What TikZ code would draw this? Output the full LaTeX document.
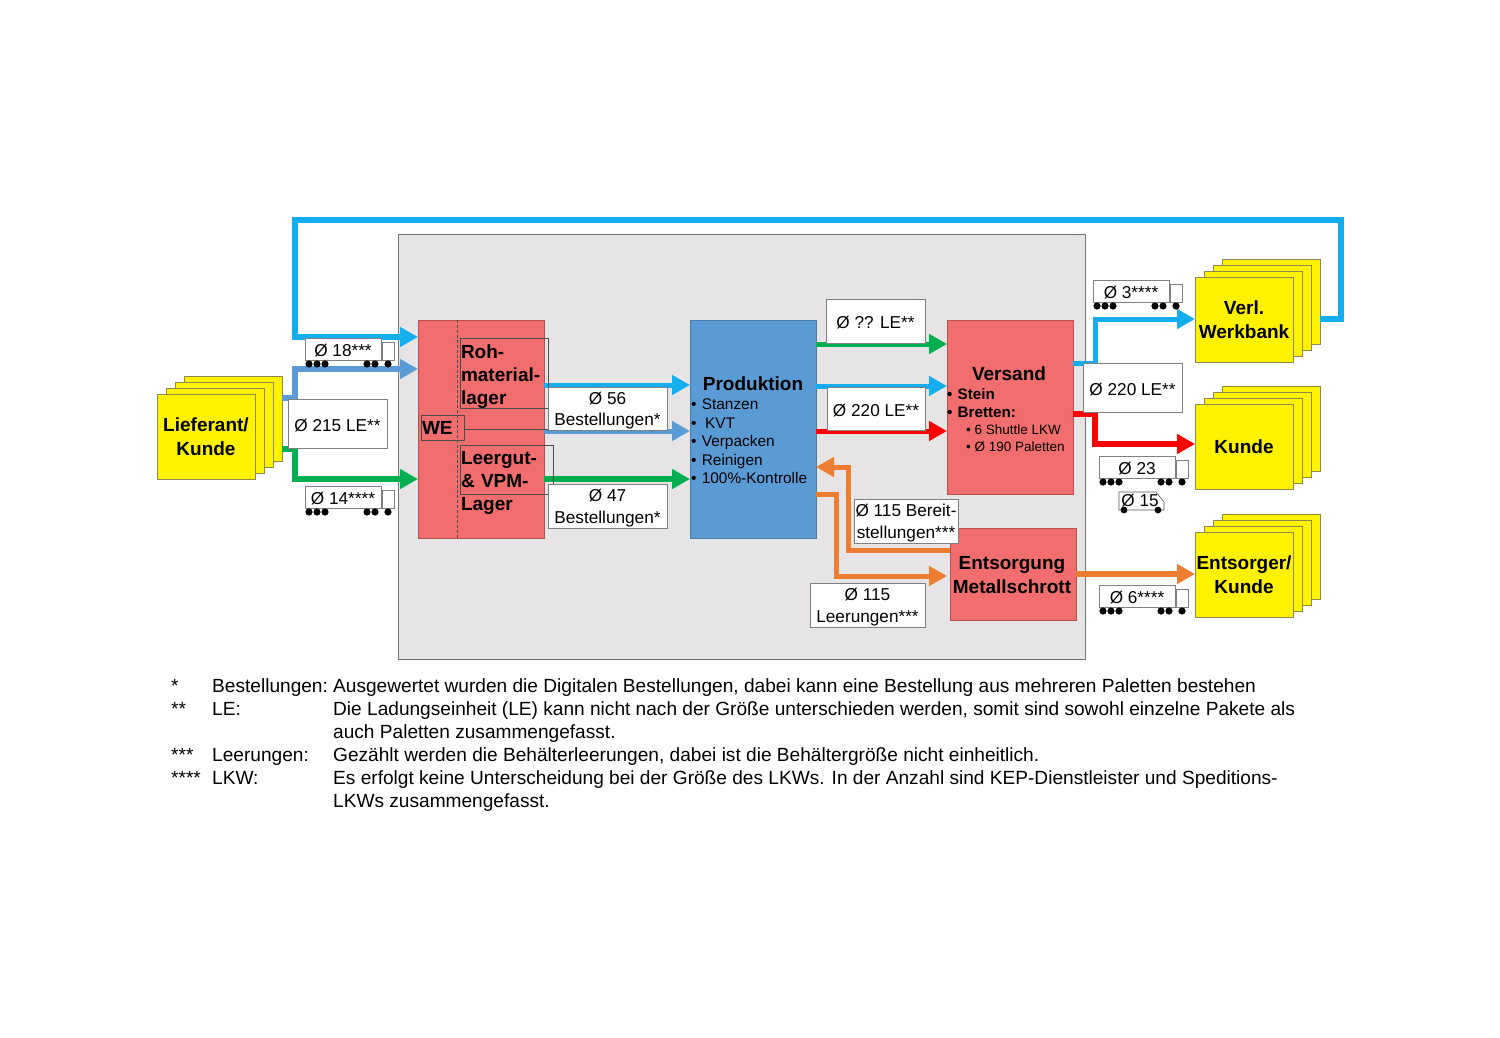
\documentclass[tikz,border=0pt]{standalone}
\usepackage{fontspec}
\setmainfont{Liberation Sans}
\usetikzlibrary{arrows.meta}
\definecolor{flowcyan}{HTML}{14AEEE}
\definecolor{flowblue}{HTML}{5B9BD5}
\definecolor{flowgreen}{HTML}{00B050}
\definecolor{floworange}{HTML}{ED7D31}
\definecolor{halle}{HTML}{E6E4E4}
\definecolor{lager}{HTML}{F26D6D}

\tikzset{
  area/.style = {draw=black!55, fill=halle, line width=.8pt, inner sep=0, outer sep=0},
  redbox/.style = {draw=lager!75!black, fill=lager, line width=.6pt, inner sep=0, outer sep=0},
  bluebox/.style = {draw=flowblue!80!black, fill=flowblue, line width=.6pt, inner sep=0, outer sep=0},
  yellowbox/.style = {draw=yellow!50!black, fill=yellow, line width=.8pt, inner sep=0, outer sep=0,
                      minimum width=98, minimum height=85.5, align=center,
                      font=\fontsize{19}{23.3}\selectfont\bfseries},
  valuebox/.style = {draw=black!50, fill=white, line width=.6pt, inner sep=0, outer sep=0},
  valuetext/.style = {inner sep=0, align=center, font=\fontsize{17.2}{21.5}\selectfont},
  title/.style = {inner sep=0, align=center, font=\fontsize{19}{23.3}\selectfont\bfseries},
  lagertext/.style = {draw=black!70, line width=.4pt, inner sep=0, outer sep=0, align=left,
                      font=\fontsize{19}{23.3}\selectfont\bfseries},
  itemtext/.style = {anchor=base west, inner sep=0, font=\fontsize{15.4}{18}\selectfont},
  legend/.style = {anchor=base west, inner sep=0, font=\fontsize{19.1}{21}\selectfont},
  flow/.style = {line width=6pt, line join=miter, -{Triangle[length=18pt,width=19pt]}},
  innerflow/.style = {line width=5pt, line join=miter, -{Triangle[length=18pt,width=19pt]}}
}

% yellow pile of sheets: name, left, top of the front sheet, text
\newcommand{\sheets}[4]{
  \foreach \i in {3,2,1}
    \node[yellowbox, anchor=north west] (#1\i) at ({#2+9*\i},{#3-6*\i}) {};
  \node[yellowbox, anchor=north west] (#1) at (#2,#3) {#4};
}

% white value box: name, left, top, width, height, text
\newcommand{\valuenode}[6]{
  \node[valuebox, anchor=north west, minimum width=#4, minimum height=#5] (#1) at (#2,#3) {};
  \node[valuetext, yshift=-2pt] (#1text) at (#1.center) {#6};
}

% truck with value: name, left, top, text
\newcommand{\truck}[4]{
  \valuenode{#1}{#2}{#3}{76}{22}{#4}
  \node[valuebox, anchor=north west, minimum width=12, minimum height=18] (#1cab) at ({#2+77},{#3+4}) {};
  \foreach \dx in {4,12,20,62,70,83}
    \fill[black] ({#2+\dx},{#3+26}) circle (3.6);
}

\begin{document}
\begin{tikzpicture}[x=1pt, y=-1pt]
\useasboundingbox (0,0) rectangle (1500,1038);
\fill[white] (0,0) rectangle (1500,1038);

\node[area, anchor=north west, minimum width=687, minimum height=425] (halle) at (398,234) {};

\node[redbox, anchor=north west, minimum width=126, minimum height=218] (we) at (418,320) {};
\node[bluebox, anchor=north west, minimum width=126, minimum height=218] (prod) at (690,320) {};
\node[redbox, anchor=north west, minimum width=126, minimum height=174] (versand) at (947,320) {};
\node[redbox, anchor=north west, minimum width=126, minimum height=92] (schrott) at (950,528) {};

\sheets{lief}{157}{394}{Lieferant/\\Kunde}
\sheets{werk}{1195}{277}{Verl.\\Werkbank}
\sheets{kunde}{1195}{404}{Kunde}
\sheets{entsorger}{1195}{532}{Entsorger/\\Kunde}

% flows
\draw[flow, flowcyan] (werk3.east |- 0,319) -- (1341,319) -- (1341,220) -- (295,220) -- (295,337) -- (we.west |- 0,337);
\draw[flow, flowblue] (lief3.east |- 0,398) -- (295,398) -- (295,369) -- (we.west |- 0,369);
\draw[flow, flowgreen] (lief3.east |- 0,449) -- (295,449) -- (295,479) -- (we.west |- 0,479);

\draw[innerflow, flowcyan] (we.east |- 0,385) -- (prod.west |- 0,385);
\draw[innerflow, flowblue] (we.east |- 0,431) -- (prod.west |- 0,431);
\draw[flow, flowgreen] (we.east |- 0,479) -- (prod.west |- 0,479);

\draw[innerflow, flowgreen] (prod.east |- 0,344) -- (versand.west |- 0,344);
\draw[innerflow, flowcyan] (prod.east |- 0,386) -- (versand.west |- 0,386);
\draw[innerflow, red] (prod.east |- 0,431) -- (versand.west |- 0,431);

\draw[innerflow, floworange] (schrott.west |- 0,550) -- (848,550) -- (848,467) -- (prod.east |- 0,467);
\draw[innerflow, floworange] (prod.east |- 0,494) -- (836,494) -- (836,576) -- (versand.west |- 0,576);

\draw[innerflow, flowcyan] (versand.east |- 0,363) -- (1095,363) -- (1095,319) -- (werk.west |- 0,319);
\draw[flow, red] (versand.east |- 0,414) -- (1095,414) -- (1095,444) -- (kunde.west |- 0,444);
\draw[flow, floworange] (schrott.east |- 0,574) -- (entsorger.west |- 0,574);

% texts of the store
\draw[black!70, densely dashed, line width=.4pt] (457,320) -- (457,538);
\node[lagertext, anchor=north west, minimum width=88, minimum height=70, text width=86] (roh) at (460,338) {\rule{0pt}{20pt}Roh-\\material-\\lager};
\node[lagertext, anchor=north west, minimum width=93, minimum height=49, text width=91, text depth=25] (leergut) at (460,445) {\rule{0pt}{14pt}Leergut-\\\& VPM-\\Lager};
\node[lagertext, anchor=north west, minimum width=43, minimum height=25, text width=41] (wetext) at (421,415) {WE};
\draw[black!70, line width=.4pt] (wetext.east |- 0,429) -- (roh.east |- 0,429);

% values
\valuenode{v215}{288}{399}{99}{49}{Ø 215 LE**}
\valuenode{v56}{548}{387}{119}{43}{Ø 56\\Bestellungen*}
\valuenode{v47}{548}{484}{119}{44}{Ø 47\\Bestellungen*}
\valuenode{vqq}{826}{299}{99}{44}{Ø ?? LE**}
\valuenode{v220}{827}{387}{98}{43}{Ø 220 LE**}
\valuenode{vbereit}{854}{499}{104}{44}{Ø 115 Bereit-\\stellungen***}
\valuenode{vleer}{810}{583}{115}{44}{Ø 115\\Leerungen***}
\valuenode{v220r}{1083}{363}{99}{49}{Ø 220 LE**}

\truck{t18}{305}{338}{Ø 18***}
\truck{t14}{305}{486}{Ø 14****}
\truck{t3}{1093}{280}{Ø 3****}
\truck{t23}{1099}{456}{Ø 23}
\truck{t6}{1099}{585}{Ø 6****}

\draw[black!65, line width=.6pt, fill=white] (1119,510) -- (1119,492) -- (1156,492) -- (1164,502) -- (1164,510) -- cycle;
\fill[black] (1124,510) circle (3.4) (1158,510) circle (3.4);
\node[inner sep=0, font=\fontsize{17.2}{21}\selectfont] (t15) at (1140,501) {Ø 15};

% Produktion
\node[title] (prodtitle) at (753,384) {Produktion};
\node[itemtext] (p1) at (691,409) {•\hspace{1pt} Stanzen};
\node[itemtext] (p2) at (691,428) {•\ \ KVT};
\node[itemtext] (p3) at (691,446) {•\hspace{1pt} Verpacken};
\node[itemtext] (p4) at (691,465) {•\hspace{1pt} Reinigen};
\node[itemtext] (p5) at (691,483) {•\hspace{1pt} 100\%-Kontrolle};

% Versand
\node[title] (vtitle) at (1009,374) {Versand};
\node[itemtext, font=\fontsize{15.2}{18}\selectfont\bfseries] (s1) at (947,399) {•\hspace{1pt} Stein};
\node[itemtext, font=\fontsize{15.2}{18}\selectfont\bfseries] (s2) at (947,417) {•\hspace{1pt} Bretten:};
\node[itemtext, font=\fontsize{13.5}{16}\selectfont] (s3) at (966,434) {•  6 Shuttle LKW};
\node[itemtext, font=\fontsize{13.5}{16}\selectfont] (s4) at (966,451) {•  Ø 190 Paletten};

\node[title] (stitle) at (1012,575) {Entsorgung\\Metallschrott};

% legend
\node[legend] (m1) at (171,692) {*};
\node[legend] (l1) at (212,692) {Bestellungen:};
\node[legend] (d1) at (333,692) {Ausgewertet wurden die Digitalen Bestellungen, dabei kann eine Bestellung aus mehreren Paletten bestehen};
\node[legend] (m2) at (171,715) {**};
\node[legend] (l2) at (212,715) {LE:};
\node[legend] (d2) at (333,715) {Die Ladungseinheit (LE) kann nicht nach der Größe unterschieden werden, somit sind sowohl einzelne Pakete als};
\node[legend] (d2b) at (333,738) {auch Paletten zusammengefasst.};
\node[legend] (m3) at (171,761) {***};
\node[legend] (l3) at (212,761) {Leerungen:};
\node[legend] (d3) at (333,761) {Gezählt werden die Behälterleerungen, dabei ist die Behältergröße nicht einheitlich.};
\node[legend] (m4) at (171,784) {****};
\node[legend] (l4) at (212,784) {LKW:};
\node[legend] (d4) at (333,784) {Es erfolgt keine Unterscheidung bei der Größe des LKWs. In der Anzahl sind KEP-Dienstleister und Speditions-};
\node[legend] (d4b) at (333,807) {LKWs zusammengefasst.};
\end{tikzpicture}
\end{document}
